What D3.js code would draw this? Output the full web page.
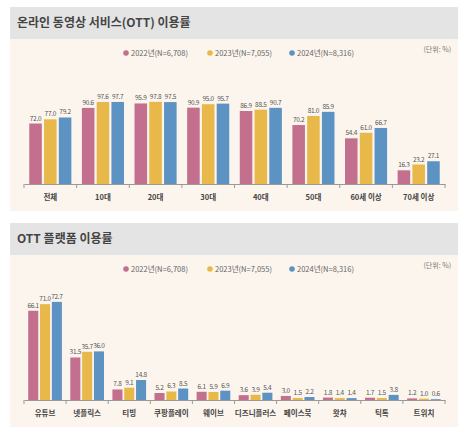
<!DOCTYPE html><html><head><meta charset="utf-8"><script src="https://cdn.jsdelivr.net/npm/d3@7"></script>
<style>body{margin:0;background:#fff}text{font-family:"Noto Sans CJK KR","Noto Sans",sans-serif}</style></head><body>
<svg id="c" width="458" height="430"></svg>
<script>
const series=["2022년(N=6,708)","2023년(N=7,055)","2024년(N=8,316)"];
const colors=["#c3708f","#e8b84a","#5d93c3"];
const cats1=["전체","10대","20대","30대","40대","50대","60세 이상","70세 이상"];
const v2022a=[72.0,90.6,95.9,90.9,86.9,70.2,54.4,16.3];
const v2023a=[77.0,97.6,97.8,95.0,88.5,81.0,61.0,23.2];
const v2024a=[79.2,97.7,97.5,95.7,90.7,85.9,66.7,27.1];
const cats2=["유튜브","넷플릭스","티빙","쿠팡플레이","웨이브","디즈니플러스","페이스북","왓챠","틱톡","트위치"];
const v2022b=[66.1,31.5,7.8,5.2,6.1,3.6,3.0,1.8,1.7,1.2];
const v2023b=[71.0,35.7,9.1,6.3,5.9,3.9,1.5,1.4,1.5,1.0];
const v2024b=[72.7,36.0,14.8,8.5,6.9,5.4,2.2,1.4,3.8,0.6];
const svg=d3.select("#c");
function panel(top,title,cats,vals,base,pxPer){
  svg.append("rect").attr("x",10).attr("y",top).attr("width",448).attr("height",32).attr("fill","#e4e4e4");
  svg.append("rect").attr("x",10).attr("y",top+32).attr("width",448).attr("height",172).attr("fill","#fcf5ee");
  svg.append("text").attr("x",17).attr("y",top+20).attr("font-size",12).attr("font-weight",700).attr("fill","#444").text(title);
  svg.append("text").attr("x",451).attr("y",top+45).attr("text-anchor","end").attr("font-size",7).attr("fill","#777").text("(단위: %)");
  const lx=[126,210,292];
  series.forEach((s,i)=>{
    svg.append("circle").attr("cx",lx[i]).attr("cy",top+46).attr("r",2.8).attr("fill",colors[i]);
    svg.append("text").attr("x",lx[i]+5).attr("y",top+49).attr("font-size",7.5).attr("fill","#666").text(s);
  });
  const x=d3.scaleBand().domain(cats).range([24,445]);
  const xi=d3.scaleBand().domain([0,1,2]).range([x.bandwidth()*0.1,x.bandwidth()*0.9]).paddingInner(0.15);
  const y=d3.scaleLinear().domain([0,100]).range([base,base-100*pxPer]);
  cats.forEach((c,ci)=>{
    vals.forEach((arr,si)=>{
      const v=arr[ci],bx=x(c)+xi(si);
      svg.append("rect").attr("x",bx).attr("y",y(v)).attr("width",xi.bandwidth()).attr("height",base-y(v)).attr("fill",colors[si]);
      svg.append("text").attr("x",bx+xi.bandwidth()/2).attr("y",y(v)-3).attr("text-anchor","middle").attr("font-size",6.5).attr("letter-spacing",-0.3).attr("fill","#555").text(v.toFixed(1));
    });
  });
  const ax=svg.append("g").attr("transform",`translate(0,${base})`).call(d3.axisBottom(x).tickSize(0).tickPadding(11));
  ax.select(".domain").attr("stroke","#999");
  ax.selectAll("text").attr("font-size",7.5).attr("font-weight",700).attr("fill","#444").attr("font-family",'"Noto Sans CJK KR",sans-serif');
  x.domain().concat([null]).forEach((c,i)=>{
    const xx=c===null?445:x(c);
    svg.append("line").attr("x1",xx).attr("x2",xx).attr("y1",base).attr("y2",base+4).attr("stroke","#999");
  });
}
panel(7,"온라인 동영상 서비스(OTT) 이용률",cats1,[v2022a,v2023a,v2024a],184,0.84);
panel(223,"OTT 플랫폼 이용률",cats2,[v2022b,v2023b,v2024b],400,1.35);
</script></body></html>
